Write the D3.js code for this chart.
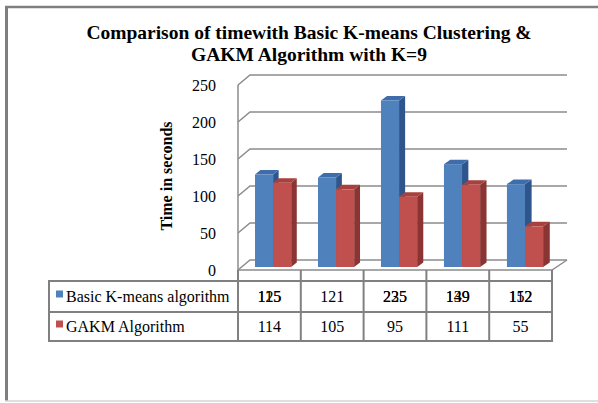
<!DOCTYPE html>
<html>
<head>
<meta charset="utf-8">
<script src="https://cdn.jsdelivr.net/npm/d3@7"></script>
<style>
  body { margin: 0; background: #fff; }
  svg text { font-family: 'Liberation Serif', 'Times New Roman', Times, serif; }
</style>
</head>
<body>
<div id="chart"></div>
<script>
// data
var categories = ["1", "2", "3", "4", "5"];
var seriesNames = ["Basic K-means algorithm", "GAKM Algorithm"];
var basicKmeans = [125, 121, 225, 139, 112];
var gakm = [114, 105, 95, 111, 55];
// the table row for basic k-means shows two overprinted numbers in some cells
var basicOverprint = ["115", "", "235", "149", "152"];
var yTicks = [0, 50, 100, 150, 200, 250];

var colors = {
  blue: { front: "#4f81bd", top: "#3f6dab", side: "#2f568c" },
  red:  { front: "#c0504d", top: "#a8413e", side: "#8a3533" }
};

var W = 598, H = 403;
var svg = d3.select("#chart").append("svg")
  .attr("width", W)
  .attr("height", H)
  .style("display", "block");

// outer frame
svg.append("line").attr("x1", 5).attr("x2", W).attr("y1", 7).attr("y2", 7)
  .attr("stroke", "#7f7f7f").attr("stroke-width", 2.5);
svg.append("line").attr("x1", 6.5).attr("x2", 6.5).attr("y1", 6).attr("y2", 401)
  .attr("stroke", "#7f7f7f").attr("stroke-width", 3);
svg.append("line").attr("x1", 5).attr("x2", W).attr("y1", 401).attr("y2", 401)
  .attr("stroke", "#d4d4d4").attr("stroke-width", 1.5);

// title
var title = svg.append("text")
  .attr("text-anchor", "middle")
  .style("font-weight", "bold")
  .style("font-size", "19.5px");
title.append("tspan").attr("x", 309).attr("y", 39)
  .text("Comparison of timewith Basic K-means Clustering &");
title.append("tspan").attr("x", 309).attr("y", 61)
  .text("GAKM Algorithm with K=9");

// 3d scales: front plane and back wall
var xFront = d3.scaleLinear().domain([0, categories.length]).range([238, 552]);
var xBack = d3.scaleLinear().domain([0, categories.length]).range([250, 567]);
var yFront = d3.scaleLinear().domain([0, 250]).range([270, 85]);
var yBack = d3.scaleLinear().domain([0, 250]).range([260, 75]);

// point at depth t (0 = front, 1 = back wall)
function px(u, t) { return xFront(u) * (1 - t) + xBack(u) * t; }
function py(v, t) { return yFront(v) * (1 - t) + yBack(v) * t; }

var grid = svg.append("g")
  .attr("stroke", "#8c8c8c")
  .attr("stroke-width", 1.5)
  .attr("fill", "none");

// gridlines: side wall diagonal then back wall
grid.selectAll("path.grid")
  .data(yTicks)
  .enter()
  .append("path")
    .attr("d", function(d) {
      return "M" + xFront(0) + "," + yFront(d) +
             "L" + xBack(0) + "," + yBack(d) +
             "L" + xBack(categories.length) + "," + yBack(d);
    });

// left wall edge and floor
grid.append("line")
  .attr("x1", xFront(0)).attr("x2", xFront(0))
  .attr("y1", yFront(250)).attr("y2", yFront(0));
grid.append("path")
  .attr("d", "M" + xFront(0) + "," + yFront(0) +
             "L" + xFront(categories.length) + "," + yFront(0) +
             "L" + xBack(categories.length) + "," + yBack(0));

// y tick labels
svg.append("g").selectAll("text")
  .data(yTicks)
  .enter()
  .append("text")
    .attr("x", 216)
    .attr("y", function(d) { return yFront(d); })
    .attr("dy", "0.35em")
    .attr("text-anchor", "end")
    .style("font-size", "16px")
    .text(function(d) { return d; });

// y axis title
svg.append("text")
  .attr("transform", "translate(172,176) rotate(-90)")
  .attr("text-anchor", "middle")
  .style("font-weight", "bold")
  .style("font-size", "16px")
  .text("Time in seconds");

// bars
var t0 = 0.3, t1 = 0.75, barW = 0.287;

function drawBar(g, u0, u1, v, c) {
  var xl = px(u0, t0), xr = px(u1, t0);
  var yb = py(0, t0), yt = py(v, t0);
  var xr2 = px(u1, t1), xl2 = px(u0, t1);
  var yt2 = py(v, t1), yb2 = py(0, t1);
  // side
  g.append("path")
    .attr("d", "M" + xr + "," + yt + "L" + xr2 + "," + yt2 + "L" + xr2 + "," + yb2 + "L" + xr + "," + yb + "Z")
    .attr("fill", c.side);
  // top
  g.append("path")
    .attr("d", "M" + xl + "," + yt + "L" + xl2 + "," + yt2 + "L" + xr2 + "," + yt2 + "L" + xr + "," + yt + "Z")
    .attr("fill", c.top);
  // front
  g.append("rect")
    .attr("x", xl).attr("y", yt)
    .attr("width", xr - xl).attr("height", yb - yt)
    .attr("fill", c.front);
}

var bars = svg.append("g");
categories.forEach(function(cat, i) {
  var mid = i + 0.5;
  drawBar(bars, mid - barW, mid, basicKmeans[i], colors.blue);
  drawBar(bars, mid, mid + barW, gakm[i], colors.red);
});

// data table
var table = svg.append("g")
  .attr("stroke", "#808080")
  .attr("stroke-width", 2)
  .attr("fill", "none");

var tLeft = 49, rowTop = 281, rowMid = 312, rowBot = 341;
table.append("rect")
  .attr("x", tLeft).attr("y", rowTop)
  .attr("width", xFront(categories.length) - tLeft)
  .attr("height", rowBot - rowTop);
table.append("line")
  .attr("x1", tLeft).attr("x2", xFront(categories.length))
  .attr("y1", rowMid).attr("y2", rowMid);
table.append("line")
  .attr("x1", xFront(0)).attr("x2", xFront(categories.length))
  .attr("y1", rowTop).attr("y2", rowTop);
table.selectAll("line.col")
  .data(d3.range(categories.length + 1))
  .enter()
  .append("line")
    .attr("x1", function(d) { return xFront(d); })
    .attr("x2", function(d) { return xFront(d); })
    .attr("y1", yFront(0))
    .attr("y2", rowBot);

var rows = [
  { name: seriesNames[0], values: basicKmeans, color: colors.blue.front, y: (rowTop + rowMid) / 2 },
  { name: seriesNames[1], values: gakm, color: colors.red.front, y: (rowMid + rowBot) / 2 }
];

var txt = svg.append("g").style("font-size", "16px");
rows.forEach(function(r, ri) {
  txt.append("rect")
    .attr("x", 56).attr("y", r.y - 6)
    .attr("width", 7).attr("height", 7)
    .attr("fill", r.color);
  txt.append("text")
    .attr("x", 66).attr("y", r.y)
    .attr("dy", "0.35em")
    .text(r.name);
  r.values.forEach(function(v, i) {
    txt.append("text")
      .attr("x", xFront(i + 0.5))
      .attr("y", r.y)
      .attr("dy", "0.35em")
      .attr("text-anchor", "middle")
      .text(v);
    if (ri === 0 && basicOverprint[i]) {
      txt.append("text")
        .attr("x", xFront(i + 0.5))
        .attr("y", r.y)
        .attr("dy", "0.35em")
        .attr("text-anchor", "middle")
        .text(basicOverprint[i]);
    }
  });
});
</script>
</body>
</html>
